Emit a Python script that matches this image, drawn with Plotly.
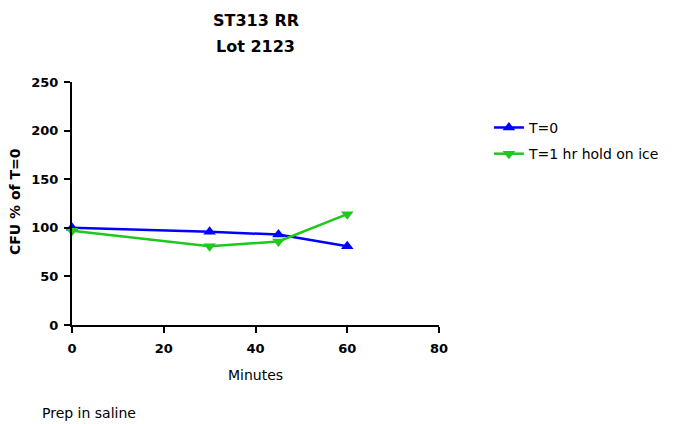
import plotly.graph_objects as go

minutes = [0, 30, 45, 60]
t0_values = [100, 96, 93, 81]
t1_values = [97, 81, 86, 114]
series_names = ["T=0", "T=1 hr hold on ice"]
x_ticks = [0, 20, 40, 60, 80]
y_ticks = [0, 50, 100, 150, 200, 250]
title_lines = ["ST313 RR", "Lot 2123"]

FONT = "DejaVu Sans, Verdana, sans-serif"

# page body has an 8px margin, so the figure is drawn 8px smaller and shifted
W, H = 689, 416
L, R, T, B = 64, 258, 74, 99
PH = H - T - B  # plot height in px
PW = W - L - R

fig = go.Figure()
fig.add_trace(go.Scatter(
    x=minutes, y=t0_values, name=series_names[0], mode="lines+markers",
    legendgroup="a",
    line=dict(color="#0000ff", width=2.5),
    marker=dict(symbol="triangle-up", size=11, color="#0000ff"),
    cliponaxis=False,
))
fig.add_trace(go.Scatter(
    x=minutes, y=t1_values, name=series_names[1], mode="lines+markers",
    legendgroup="b",
    line=dict(color="#1ec81e", width=2.5),
    marker=dict(symbol="triangle-down", size=11, color="#1ec81e"),
    cliponaxis=False,
))

fig.update_layout(
    width=W, height=H,
    margin=dict(l=L, r=R, t=T, b=B),
    paper_bgcolor="white", plot_bgcolor="white",
    font=dict(family=FONT, color="black"),
    legend=dict(x=1.136, y=0.877, xanchor="left", yanchor="top",
                font=dict(size=14, family=FONT), bgcolor="rgba(0,0,0,0)",
                tracegroupgap=5, itemwidth=30),
    showlegend=True,
)
fig.update_xaxes(
    range=[0, 80], tickvals=x_ticks, ticktext=[f"<b>{v}</b>" for v in x_ticks],
    showline=True, linecolor="black", linewidth=2, ticks="outside", ticklen=6,
    tickwidth=2, tickcolor="black", showgrid=False, zeroline=False,
    tickfont=dict(size=13, family=FONT), ticklabelstandoff=4,
)
fig.update_yaxes(
    range=[0, 250], tickvals=y_ticks, ticktext=[f"<b>{v}</b>" for v in y_ticks],
    showline=True, linecolor="black", linewidth=2, ticks="outside", ticklen=6,
    tickwidth=2, tickcolor="black", showgrid=False, zeroline=False,
    tickfont=dict(size=13, family=FONT), ticklabelstandoff=3,
)

def px_y(page_y):
    return (T + PH - (page_y - 8)) / PH

def px_x(page_x):
    return (page_x - 8 - L) / PW

# title lines
for line, py in zip(title_lines, [20, 46]):
    fig.add_annotation(text=f"<b>{line}</b>", xref="paper", yref="paper",
                       x=0.5, y=px_y(py), xanchor="center", yanchor="middle",
                       showarrow=False, font=dict(size=16, family=FONT))
# axis titles
fig.add_annotation(text="Minutes", xref="paper", yref="paper",
                   x=0.5, y=px_y(375), xanchor="center", yanchor="middle",
                   showarrow=False, font=dict(size=14, family=FONT))
fig.add_annotation(text="<b>CFU % of T=0</b>", xref="paper", yref="paper",
                   x=px_x(15), y=px_y(202), xanchor="center", yanchor="middle",
                   textangle=-90, showarrow=False, font=dict(size=14, family=FONT))
fig.add_annotation(text="Prep in saline", xref="paper", yref="paper",
                   x=px_x(40), y=px_y(413), xanchor="left", yanchor="middle",
                   showarrow=False, font=dict(size=14, family=FONT))

fig.write_html("out.html")
